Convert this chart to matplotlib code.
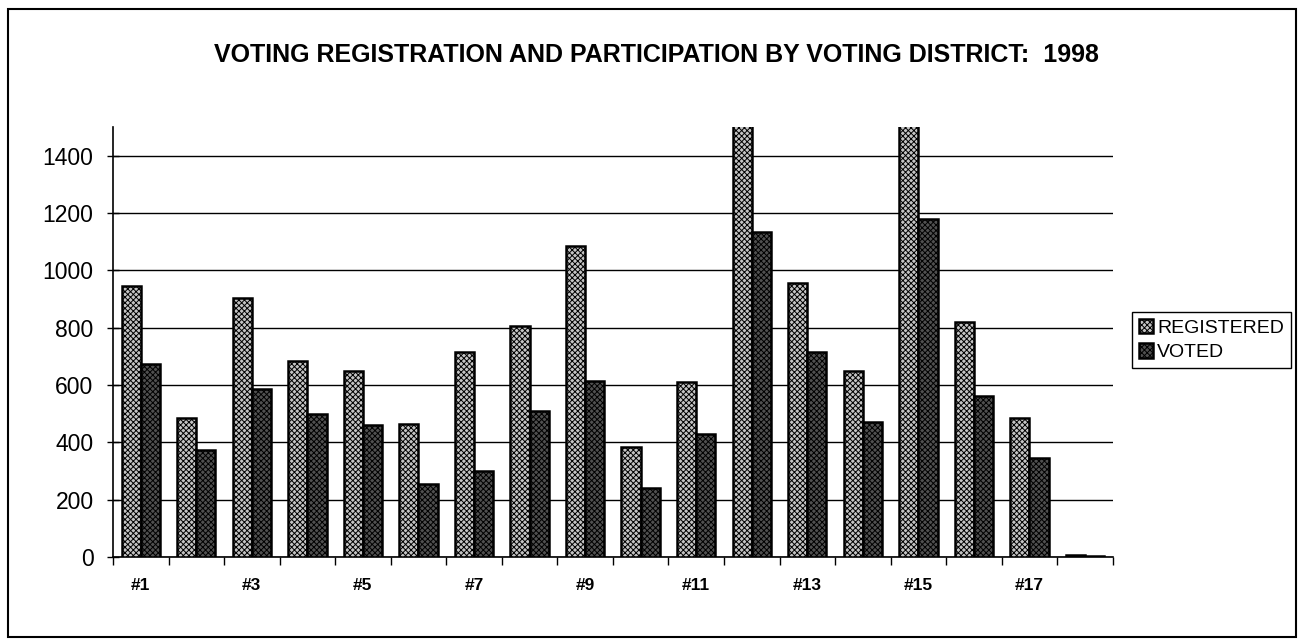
import matplotlib
matplotlib.use("Agg")
import matplotlib.pyplot as plt
import numpy as np
from matplotlib.patches import Rectangle

plt.rcParams["font.family"] = ["Liberation Sans", "DejaVu Sans"]
plt.rcParams["hatch.linewidth"] = 0.7

# District numbers 1..18; only odd ones are labelled on the axis
districts = [f"#{i}" for i in range(1, 19)]
registered = [945, 485, 905, 685, 650, 465, 715, 805, 1085, 385,
              610, 1620, 955, 650, 1700, 820, 485, 8]
voted = [675, 375, 585, 500, 460, 255, 300, 510, 615, 240,
         430, 1135, 715, 470, 1180, 560, 345, 5]
y_ticks = [0, 200, 400, 600, 800, 1000, 1200, 1400]

fig = plt.figure(figsize=(13, 6.43), dpi=100)
ax = fig.add_axes([0.0869, 0.1337, 0.7691, 0.6688])

x = np.arange(len(districts))
w = 0.345
ax.bar(x - w / 2, registered, width=w, facecolor="#c4c4c4", edgecolor="black",
       linewidth=1.8, hatch="xxxxxx", label="REGISTERED", zorder=3)
ax.bar(x + w / 2, voted, width=w, facecolor="#505050", edgecolor="black",
       linewidth=1.8, hatch="xxxxxx", label="VOTED", zorder=3)

ax.set_xlim(-0.5, len(districts) - 0.5)
ax.set_ylim(0, 1500)
ax.set_yticks(y_ticks)
ax.set_yticklabels([str(v) for v in y_ticks], fontsize=16.5)
ax.tick_params(axis="y", direction="inout", length=8, width=1, pad=10)
ax.yaxis.grid(True, color="black", linewidth=1, zorder=0)
ax.set_axisbelow(True)

# ticks at category boundaries, labels at odd district centres
ax.set_xticks(np.arange(-0.5, len(districts), 1.0))
ax.set_xticklabels([])
ax.tick_params(axis="x", which="major", direction="out", length=6, width=1)
ax.set_xticks(x[::2], minor=True)
ax.set_xticklabels(districts[::2], minor=True, fontsize=12.5, fontweight="bold")
ax.tick_params(axis="x", which="minor", length=0, pad=15)

for s in ["top", "right"]:
    ax.spines[s].set_visible(False)
for s in ["left", "bottom"]:
    ax.spines[s].set_linewidth(1.2)

fig.text(0.505, 0.914, "VOTING REGISTRATION AND PARTICIPATION BY VOTING DISTRICT:  1998",
         ha="center", va="center", fontsize=18, fontweight="bold")

leg = fig.legend(loc="upper left", bbox_to_anchor=(0.8708, 0.5148), fontsize=14,
                 frameon=True, fancybox=False, edgecolor="black", framealpha=1,
                 handlelength=0.75, handleheight=0.75, handletextpad=0.2,
                 labelspacing=0.35, borderpad=0.35, borderaxespad=0)
leg.get_frame().set_linewidth(1)

# page frame
fig.patches.append(Rectangle((0.006, 0.01), 0.991, 0.976, transform=fig.transFigure,
                             fill=False, edgecolor="black", linewidth=1.5))

fig.savefig("out.png", dpi=100)
